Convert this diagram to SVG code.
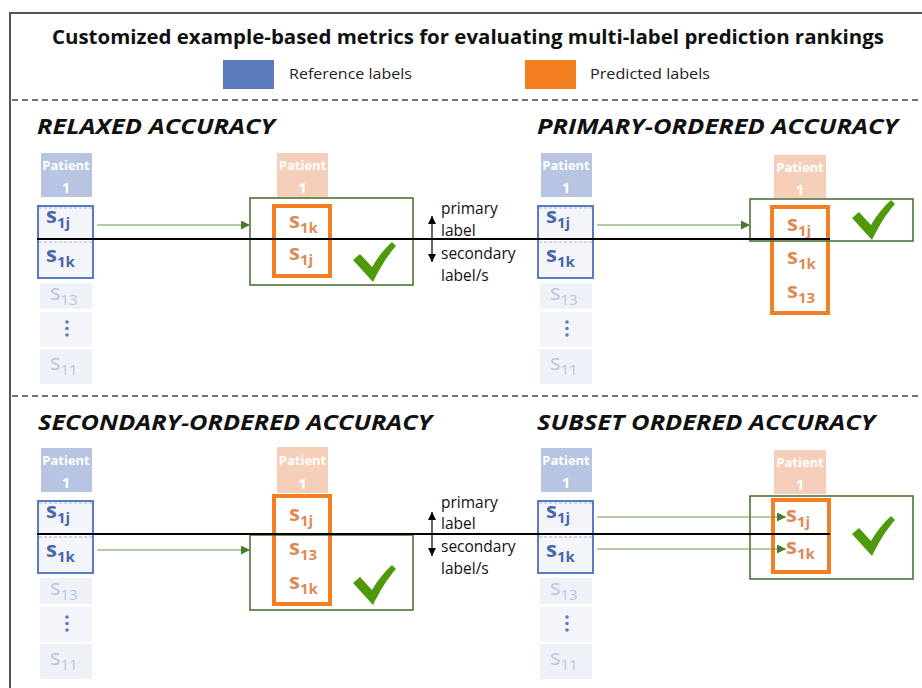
<svg xmlns="http://www.w3.org/2000/svg" width="922" height="688" viewBox="0 0 922 688">
<style>
.title{font-family:"Open Sans","Liberation Sans",sans-serif;font-weight:bold;font-size:20px;fill:#111}
.leg{font-family:"Open Sans","Liberation Sans",sans-serif;font-size:15px;fill:#222}
.head{font-family:"Open Sans","Liberation Sans",sans-serif;font-weight:bold;font-style:italic;font-size:22px;fill:#111}
.side{font-family:"Open Sans","Liberation Sans",sans-serif;font-size:15.5px;fill:#111}
.pt{font-family:"Open Sans","Liberation Sans",sans-serif;font-weight:bold;font-size:13px;fill:#fff;text-anchor:middle}
.pn{font-family:"Open Sans","Liberation Sans",sans-serif;font-weight:bold;font-size:15px;fill:#fff;text-anchor:middle}
.sb{font-family:"Open Sans","Liberation Sans",sans-serif;font-weight:bold;font-size:22px;fill:#4a68a6}
.sf{font-family:"Open Sans","Liberation Sans",sans-serif;font-size:22px;fill:#b9c6e2}
.so{font-family:"Open Sans","Liberation Sans",sans-serif;font-weight:bold;font-size:22px;fill:#de8a55}
.sub{font-size:15px}
.hb{fill:#b7c5e3}
.ho{fill:#f6cfba}
.cell{fill:#f3f5fb}
.cellf{fill:#eef1f8}
.bbox{fill:none;stroke:#5b7bbf;stroke-width:2}
.dash{stroke:#a9b9dc;stroke-width:1.2;stroke-dasharray:3 2;fill:none}
.obox{fill:none;stroke:#f47f20;stroke-width:4}
.gbox{fill:none;stroke:#4b7433;stroke-width:1.6}
.garr{stroke:#6a9a4a;stroke-width:1.2;fill:none;marker-end:url(#ga)}
.bl{stroke:#000;stroke-width:2}
.ind{stroke:#000;stroke-width:1.2;marker-end:url(#ka)}
.chk{fill:#4e9a0a}
.sep{stroke:#444;stroke-width:1.5;stroke-dasharray:6 4}
</style>
<defs>
<marker id="ga" viewBox="0 0 10 10" refX="10" refY="5" markerWidth="9" markerHeight="9" markerUnits="userSpaceOnUse" orient="auto"><path d="M0,0 L10,5 L0,10 Z" fill="#4b7a2e"/></marker>
<marker id="ka" viewBox="0 0 10 10" refX="10" refY="5" markerWidth="8" markerHeight="8" markerUnits="userSpaceOnUse" orient="auto"><path d="M0,0 L10,5 L0,10 Z" fill="#000"/></marker>
<path id="check" d="M0,18 L7,12 L19,25 C25,15 31,7 39,0 L43,4 C34,14 27,26 20,40 Z"/>
</defs>
<rect width="922" height="688" fill="#fff"/>
<rect x="10" y="13" width="930" height="700" fill="none" stroke="#555" stroke-width="2"/>

<g id="header">
<text class="title" x="52" y="44" textLength="832" lengthAdjust="spacingAndGlyphs">Customized example-based metrics for evaluating multi-label prediction rankings</text>
<rect x="223" y="60" width="51" height="29" fill="#5a7cba"/>
<text class="leg" x="289" y="79" textLength="123" lengthAdjust="spacingAndGlyphs">Reference labels</text>
<rect x="525" y="60" width="51" height="29" fill="#f47f20"/>
<text class="leg" x="590" y="79" textLength="120" lengthAdjust="spacingAndGlyphs">Predicted labels</text>
<line class="sep" x1="12" y1="100" x2="922" y2="100"/>
<line class="sep" x1="12" y1="396" x2="922" y2="396"/>
</g>

<g id="headings">
<text class="head" x="37" y="134" textLength="238" lengthAdjust="spacingAndGlyphs">RELAXED ACCURACY</text>
<text class="head" x="537" y="134" textLength="361" lengthAdjust="spacingAndGlyphs">PRIMARY-ORDERED ACCURACY</text>
<text class="head" x="38" y="430" textLength="394" lengthAdjust="spacingAndGlyphs">SECONDARY-ORDERED ACCURACY</text>
<text class="head" x="537" y="430" textLength="338" lengthAdjust="spacingAndGlyphs">SUBSET ORDERED ACCURACY</text>
</g>

<!-- Reference columns -->
<g id="ref-relaxed">
<rect class="hb" x="41" y="153" width="51" height="44"/>
<text class="pt" x="66" y="170">Patient</text><text class="pn" x="66" y="193">1</text>
<rect class="cell" x="39" y="207" width="53" height="32"/>
<rect class="cell" x="39" y="241" width="53" height="36"/>
<line class="dash" x1="39" y1="208" x2="92" y2="208"/>
<line class="dash" x1="39" y1="242" x2="92" y2="242"/>
<rect class="bbox" x="38" y="206" width="55" height="72"/>
<text class="sb" x="46" y="223">s<tspan class="sub" dy="5">1j</tspan></text>
<text class="sb" x="46" y="262">s<tspan class="sub" dy="5">1k</tspan></text>
<rect class="cellf" x="40" y="283" width="52" height="26"/>
<text class="sf" x="50" y="300">s<tspan class="sub" dy="5">13</tspan></text>
<rect class="cell" x="40" y="312" width="52" height="35"/>
<circle cx="67" cy="322" r="1.8" fill="#5d7cbd"/><circle cx="67" cy="328.5" r="1.8" fill="#5d7cbd"/><circle cx="67" cy="335" r="1.8" fill="#5d7cbd"/>
<rect class="cellf" x="40" y="349" width="52" height="35"/>
<text class="sf" x="50" y="370">s<tspan class="sub" dy="5">11</tspan></text>
</g>

<g id="ref-primary" transform="translate(500,0)">
<rect class="hb" x="41" y="153" width="51" height="44"/>
<text class="pt" x="66" y="170">Patient</text><text class="pn" x="66" y="193">1</text>
<rect class="cell" x="39" y="207" width="53" height="32"/>
<rect class="cell" x="39" y="241" width="53" height="36"/>
<line class="dash" x1="39" y1="208" x2="92" y2="208"/>
<line class="dash" x1="39" y1="242" x2="92" y2="242"/>
<rect class="bbox" x="38" y="206" width="55" height="72"/>
<text class="sb" x="46" y="223">s<tspan class="sub" dy="5">1j</tspan></text>
<text class="sb" x="46" y="262">s<tspan class="sub" dy="5">1k</tspan></text>
<rect class="cellf" x="40" y="283" width="52" height="26"/>
<text class="sf" x="50" y="300">s<tspan class="sub" dy="5">13</tspan></text>
<rect class="cell" x="40" y="312" width="52" height="35"/>
<circle cx="67" cy="322" r="1.8" fill="#5d7cbd"/><circle cx="67" cy="328.5" r="1.8" fill="#5d7cbd"/><circle cx="67" cy="335" r="1.8" fill="#5d7cbd"/>
<rect class="cellf" x="40" y="349" width="52" height="35"/>
<text class="sf" x="50" y="370">s<tspan class="sub" dy="5">11</tspan></text>
</g>

<g id="ref-secondary" transform="translate(0,295)">
<rect class="hb" x="41" y="153" width="51" height="44"/>
<text class="pt" x="66" y="170">Patient</text><text class="pn" x="66" y="193">1</text>
<rect class="cell" x="39" y="207" width="53" height="32"/>
<rect class="cell" x="39" y="241" width="53" height="36"/>
<line class="dash" x1="39" y1="208" x2="92" y2="208"/>
<line class="dash" x1="39" y1="242" x2="92" y2="242"/>
<rect class="bbox" x="38" y="206" width="55" height="72"/>
<text class="sb" x="46" y="223">s<tspan class="sub" dy="5">1j</tspan></text>
<text class="sb" x="46" y="262">s<tspan class="sub" dy="5">1k</tspan></text>
<rect class="cellf" x="40" y="283" width="52" height="26"/>
<text class="sf" x="50" y="300">s<tspan class="sub" dy="5">13</tspan></text>
<rect class="cell" x="40" y="312" width="52" height="35"/>
<circle cx="67" cy="322" r="1.8" fill="#5d7cbd"/><circle cx="67" cy="328.5" r="1.8" fill="#5d7cbd"/><circle cx="67" cy="335" r="1.8" fill="#5d7cbd"/>
<rect class="cellf" x="40" y="349" width="52" height="35"/>
<text class="sf" x="50" y="370">s<tspan class="sub" dy="5">11</tspan></text>
</g>

<g id="ref-subset" transform="translate(500,295)">
<rect class="hb" x="41" y="153" width="51" height="44"/>
<text class="pt" x="66" y="170">Patient</text><text class="pn" x="66" y="193">1</text>
<rect class="cell" x="39" y="207" width="53" height="32"/>
<rect class="cell" x="39" y="241" width="53" height="36"/>
<line class="dash" x1="39" y1="208" x2="92" y2="208"/>
<line class="dash" x1="39" y1="242" x2="92" y2="242"/>
<rect class="bbox" x="38" y="206" width="55" height="72"/>
<text class="sb" x="46" y="223">s<tspan class="sub" dy="5">1j</tspan></text>
<text class="sb" x="46" y="262">s<tspan class="sub" dy="5">1k</tspan></text>
<rect class="cellf" x="40" y="283" width="52" height="26"/>
<text class="sf" x="50" y="300">s<tspan class="sub" dy="5">13</tspan></text>
<rect class="cell" x="40" y="312" width="52" height="35"/>
<circle cx="67" cy="322" r="1.8" fill="#5d7cbd"/><circle cx="67" cy="328.5" r="1.8" fill="#5d7cbd"/><circle cx="67" cy="335" r="1.8" fill="#5d7cbd"/>
<rect class="cellf" x="40" y="349" width="52" height="35"/>
<text class="sf" x="50" y="370">s<tspan class="sub" dy="5">11</tspan></text>
</g>

<!-- Predicted columns -->
<g id="pred-relaxed">
<rect class="ho" x="277" y="153" width="51" height="44"/>
<text class="pt" x="302.5" y="170">Patient</text><text class="pn" x="302.5" y="193">1</text>
<rect class="obox" x="274" y="206" width="56" height="70"/>
<text class="so" x="289" y="228">s<tspan class="sub" dy="5">1k</tspan></text>
<text class="so" x="289" y="260">s<tspan class="sub" dy="5">1j</tspan></text>
</g>
<g id="pred-primary">
<rect class="ho" x="774" y="155" width="52" height="43"/>
<text class="pt" x="800" y="172">Patient</text><text class="pn" x="800" y="195">1</text>
<rect class="obox" x="772" y="207" width="56" height="106"/>
<text class="so" x="787" y="231">s<tspan class="sub" dy="5">1j</tspan></text>
<text class="so" x="787" y="264">s<tspan class="sub" dy="5">1k</tspan></text>
<text class="so" x="787" y="298">s<tspan class="sub" dy="5">13</tspan></text>
</g>
<g id="pred-secondary">
<rect class="ho" x="277" y="447" width="51" height="46"/>
<text class="pt" x="302.5" y="465">Patient</text><text class="pn" x="302.5" y="489">1</text>
<rect class="obox" x="274" y="496" width="56" height="108"/>
<text class="so" x="289" y="521">s<tspan class="sub" dy="5">1j</tspan></text>
<text class="so" x="289" y="555">s<tspan class="sub" dy="5">13</tspan></text>
<text class="so" x="289" y="589">s<tspan class="sub" dy="5">1k</tspan></text>
</g>
<g id="pred-subset">
<rect class="ho" x="774" y="450" width="52" height="44"/>
<text class="pt" x="800" y="467">Patient</text><text class="pn" x="800" y="490">1</text>
<rect class="obox" x="773" y="500" width="56" height="72"/>
<text class="so" x="786" y="522">s<tspan class="sub" dy="5">1j</tspan></text>
<text class="so" x="786" y="554">s<tspan class="sub" dy="5">1k</tspan></text>
</g>

<!-- Match boxes and checks -->
<g id="match-relaxed">
<rect class="gbox" x="250" y="198" width="163" height="87"/>
<use href="#check" class="chk" transform="translate(353,242)"/>
</g>
<g id="match-primary">
<rect class="gbox" x="750" y="199" width="163" height="42"/>
<use href="#check" class="chk" transform="translate(852,200)"/>
</g>
<g id="match-secondary">
<rect class="gbox" x="250" y="535" width="163" height="75"/>
<use href="#check" class="chk" transform="translate(353,565)"/>
</g>
<g id="match-subset">
<rect class="gbox" x="750" y="496" width="163" height="83"/>
<use href="#check" class="chk" transform="translate(852,516)"/>
</g>

<g id="connectors">
<line class="garr" x1="97" y1="225" x2="250" y2="225"/>
<line class="garr" x1="597" y1="225" x2="750" y2="225"/>
<line class="garr" x1="97" y1="550" x2="250" y2="550"/>
<line class="garr" x1="597" y1="517" x2="786" y2="517"/>
<line class="garr" x1="597" y1="549" x2="786" y2="549"/>
<line class="bl" x1="37" y1="239" x2="830" y2="239"/>
<line class="bl" x1="37" y1="534" x2="830" y2="534"/>
<line class="ind" x1="432" y1="239" x2="432" y2="216"/>
<line class="ind" x1="432" y1="239" x2="432" y2="262"/>
<line class="ind" x1="432" y1="534" x2="432" y2="512"/>
<line class="ind" x1="432" y1="534" x2="432" y2="556"/>
</g>

<g id="level-labels">
<text class="side" x="441" y="214">primary</text>
<text class="side" x="441" y="236">label</text>
<text class="side" x="441" y="259">secondary</text>
<text class="side" x="441" y="281">label/s</text>
<text class="side" x="441" y="508">primary</text>
<text class="side" x="441" y="529">label</text>
<text class="side" x="441" y="552">secondary</text>
<text class="side" x="441" y="574">label/s</text>
</g>
</svg>
